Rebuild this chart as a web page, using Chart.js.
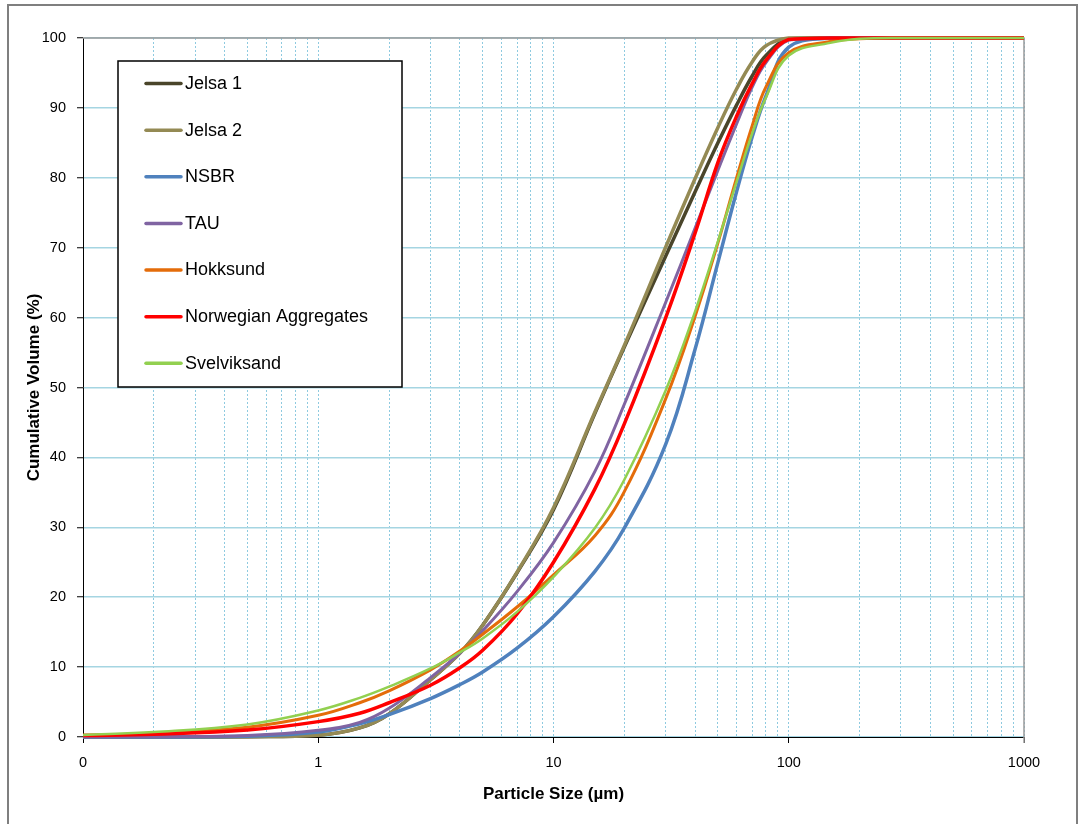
<!DOCTYPE html>
<html><head><meta charset="utf-8">
<script src="https://cdn.jsdelivr.net/npm/chart.js@4/dist/chart.umd.min.js"></script>
<style>
html,body{margin:0;padding:0;background:#fff;overflow:hidden;}
#frame{position:absolute;left:7px;top:4px;width:1071px;height:840px;border:2px solid #7f7f7f;box-sizing:border-box;}
#wrap{position:absolute;left:0;top:0;width:1085px;height:824px;}
</style></head><body>
<div id="frame"></div>
<div id="wrap"><canvas id="c" width="1085" height="824"></canvas></div>
<script>
// Particle sizes (µm) at which the curves were read
const sizes = [0.1, 0.2, 0.5, 1, 1.5, 2, 3, 4, 5, 7, 10, 15, 20, 30, 40, 50, 60, 70, 80, 100, 150, 200, 300, 500, 1000];

const seriesNames = ['Jelsa 1', 'Jelsa 2', 'NSBR', 'TAU', 'Hokksund', 'Norwegian Aggregates', 'Svelviksand'];

const jelsa1 = [0, 0, 0.05, 0.25, 1.3, 3.3, 8.2, 12.0, 16.0, 23.5, 32.5, 46.3, 55.8, 68.8, 78.0, 85.0, 90.4, 94.6, 97.5, 99.9, 100, 100, 100, 100, 100];
const jelsa2 = [0, 0, 0.05, 0.25, 1.3, 3.3, 8.2, 12.0, 16.0, 23.6, 32.8, 46.5, 56.0, 70.1, 79.9, 87.2, 92.7, 96.6, 98.9, 100, 100, 100, 100, 100, 100];
const nsbr = [0, 0, 0.1, 0.7, 1.9, 3.2, 5.5, 7.5, 9.3, 12.7, 17.2, 23.7, 29.9, 41.9, 55.5, 67.9, 78.0, 85.9, 91.7, 98.7, 100, 100, 100, 100, 100];
const tau = [0, 0.05, 0.2, 0.95, 2.1, 4.1, 8.5, 12.0, 15.2, 20.8, 27.8, 38.0, 47.6, 62.2, 72.8, 81.1, 87.7, 93.0, 96.5, 99.7, 100, 100, 100, 100, 100];
const hokksund = [0.25, 0.5, 1.4, 3.1, 4.9, 6.6, 9.6, 12.3, 14.7, 18.6, 23.2, 28.8, 35.1, 48.4, 60.2, 70.7, 80.0, 87.5, 93.0, 97.9, 99.5, 99.9, 100, 100, 100];
const norwegianAggregates = [0.2, 0.4, 1.0, 2.2, 3.4, 4.9, 7.4, 9.9, 12.4, 17.6, 25.0, 35.5, 44.8, 60.0, 72.1, 82.2, 88.8, 93.5, 96.8, 99.8, 100, 100, 100, 100, 100];
const svelviksand = [0.3, 0.7, 1.8, 3.8, 5.6, 7.2, 9.8, 12.1, 14.1, 17.9, 22.9, 29.9, 36.8, 49.6, 60.9, 70.9, 79.4, 86.4, 91.5, 97.5, 99.3, 99.9, 100, 100, 100];

const seriesColors = ['#4a452a', '#948a54', '#4f81bd', '#8064a2', '#e46c0a', '#ff0000', '#92d050'];
const seriesWidths = [3.5, 3.5, 3.5, 3, 3, 3.5, 2.5];

const xMajorTicks = [0.1, 1, 10, 100, 1000];
const xMajorLabels = ['0', '1', '10', '100', '1000'];
const yTickStep = 10;

const FONT = "'Liberation Sans', Arial, Helvetica, sans-serif";

// all gridline positions 1..9 x 10^k
const xGridValues = [];
for (let k = -1; k <= 2; k++) {
  for (let m = 1; m <= 9; m++) xGridValues.push(Number((m * Math.pow(10, k)).toPrecision(6)));
}
xGridValues.push(1000);

function majorIndex(v) { return xMajorTicks.findIndex(m => Math.abs(m - v) < 1e-9 * Math.max(1, m)); }

const allValues = [jelsa1, jelsa2, nsbr, tau, hokksund, norwegianAggregates, svelviksand];
const datasets = allValues.map((vals, i) => ({
  label: seriesNames[i],
  data: sizes.map((s, j) => ({x: s, y: vals[j]})),
  borderColor: seriesColors[i],
  backgroundColor: seriesColors[i],
  borderWidth: seriesWidths[i],
  pointRadius: 0,
  fill: false,
  tension: 0.4,
  clip: 6,
  order: -i
}));

const framePlugin = {
  id: 'frameAndLegend',
  beforeDatasetsDraw(chart) {
    const {ctx, chartArea: a} = chart;
    ctx.save();
    ctx.strokeStyle = '#9a9a9a';
    ctx.lineWidth = 1.5;
    ctx.beginPath();
    ctx.moveTo(a.left, a.top);
    ctx.lineTo(a.right, a.top);
    ctx.lineTo(a.right, a.bottom + 6);
    ctx.stroke();
    ctx.restore();
  },
  afterDatasetsDraw(chart) {
    const {ctx, chartArea: a} = chart;
    const bx = a.left + 35, by = a.top + 23, bw = 284, bh = 326;
    ctx.save();
    ctx.fillStyle = '#fff';
    ctx.fillRect(bx, by, bw, bh);
    ctx.strokeStyle = '#000';
    ctx.lineWidth = 1.5;
    ctx.strokeRect(bx, by, bw, bh);
    ctx.font = '18px ' + FONT;
    ctx.textBaseline = 'middle';
    ctx.textAlign = 'left';
    chart.data.datasets.forEach((ds, i) => {
      const y = by + 22.5 + i * 46.63;
      ctx.strokeStyle = ds.borderColor;
      ctx.lineWidth = 3.5;
      ctx.lineCap = 'round';
      ctx.beginPath();
      ctx.moveTo(bx + 28, y);
      ctx.lineTo(bx + 63, y);
      ctx.stroke();
      ctx.fillStyle = '#000';
      ctx.fillText(ds.label, bx + 67, y + 0.5);
    });
    ctx.restore();
  }
};

new Chart(document.getElementById('c'), {
  type: 'line',
  data: {datasets},
  plugins: [framePlugin],
  options: {
    responsive: false,
    animation: false,
    devicePixelRatio: 1,
    layout: {padding: {left: 0, top: 38, right: 61, bottom: 0}},
    plugins: {legend: {display: false}, tooltip: {enabled: false}},
    scales: {
      x: {
        type: 'logarithmic',
        min: 0.1,
        max: 1000,
        afterFit: s => { s.height = 87; },
        afterBuildTicks: s => { s.ticks = xGridValues.map(v => ({value: v})); },
        ticks: {
          autoSkip: false,
          maxRotation: 0,
          minRotation: 0,
          padding: 11,
          color: '#000',
          font: {family: FONT, size: 14.5},
          callback: (v) => { const i = majorIndex(v); return i >= 0 ? xMajorLabels[i] : ''; }
        },
        grid: {
          color: c => (c.tick && (majorIndex(c.tick.value) === 0)) ? 'rgba(0,0,0,0)' : '#8ecae0',
          lineWidth: 1,
          tickLength: 6,
          tickWidth: 1,
          tickColor: c => (c.tick && majorIndex(c.tick.value) >= 0) ? '#000' : 'rgba(0,0,0,0)'
        },
        border: {display: true, color: '#000', width: 1, dash: [2, 2]},
        title: {
          display: true,
          text: 'Particle Size (µm)',
          color: '#000',
          font: {family: FONT, size: 17, weight: 'bold'},
          padding: {top: 0, bottom: 19}
        }
      },
      y: {
        min: 0,
        max: 100,
        afterFit: s => { s.width = 83; },
        ticks: {
          stepSize: yTickStep,
          padding: 11,
          color: '#000',
          font: {family: FONT, size: 14.5}
        },
        grid: {
          color: '#a5d5e2',
          lineWidth: 1.5,
          tickLength: 6,
          tickWidth: 1,
          tickColor: '#000'
        },
        border: {display: true, color: '#000', width: 1},
        title: {
          display: true,
          text: 'Cumulative Volume (%)',
          color: '#000',
          font: {family: FONT, size: 17, weight: 'bold'},
          padding: {top: 24, bottom: 0}
        }
      }
    }
  }
});
</script>
</body></html>
